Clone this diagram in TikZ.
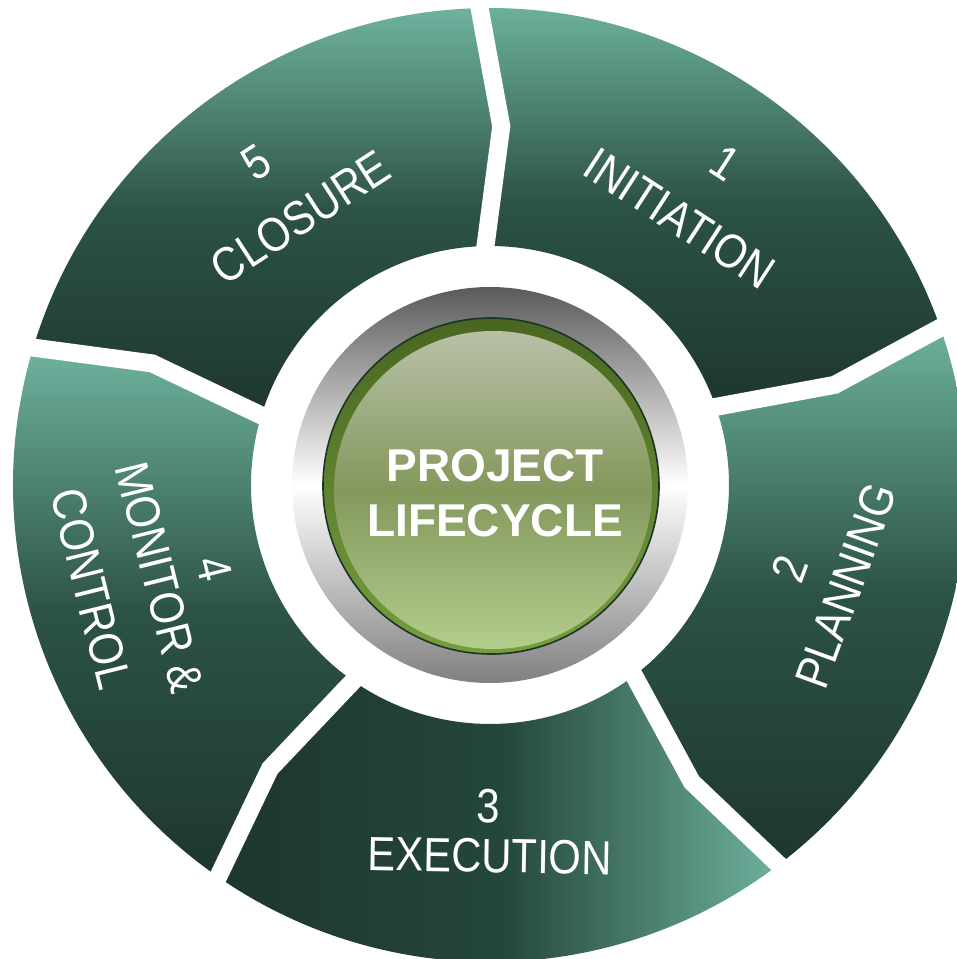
\documentclass[tikz,border=0pt]{standalone}
\usepackage{fontspec}
\setmainfont{Liberation Sans}
\newfontfamily\segfont[FakeStretch=0.87]{Liberation Sans}
\definecolor{tealhi}{RGB}{110,178,158}
\definecolor{tealmid}{RGB}{44,82,70}
\definecolor{tealdk}{RGB}{36,70,60}
\definecolor{teallo}{RGB}{30,54,47}
\definecolor{ringtop}{RGB}{90,90,90}
\definecolor{ringbot}{RGB}{128,128,128}
\definecolor{rimtop}{RGB}{72,102,32}
\definecolor{rimbot}{RGB}{118,158,62}
\definecolor{captop}{RGB}{184,193,167}
\definecolor{capmid}{RGB}{132,152,92}
\definecolor{capbot}{RGB}{178,205,140}
\definecolor{btnline}{RGB}{28,52,38}
\begin{document}
\begin{tikzpicture}[x=0.5pt, y=0.5pt, line join=round,
  vshade/.style={top color=tealhi, bottom color=teallo, middle color=tealmid},
  hshade/.style={left color=teallo, right color=tealhi, middle color=tealdk},
  sepline/.style={white, line width=9pt, line join=miter},
  lab/.style={text=white, inner sep=0pt, font=\segfont\fontsize{24}{28}\selectfont}]
  \useasboundingbox (-490,-474) rectangle (467,485);
  \path[clip] (-490,-474) rectangle (467,485);
  \path (0,0) coordinate (O);
  %\draw[gray!50] (-490,-474) grid[step=50] (467,485);
  % five arrow segments of the ring
  \foreach \a/\st in {91.5/vshade,19.5/vshade,-52.5/hshade,-124.5/vshade,-196.5/vshade}
  \shade[\st] (\a:239) -- ({\a-3.3}:359) -- (\a:477)
    arc[start angle=\a, end angle=\a-72, radius=477]
    -- ({\a-75.3}:359) -- ({\a-72}:239)
    arc[start angle=\a-72, end angle=\a, radius=239] -- cycle;
  \foreach \a in {91.5,19.5,-52.5,-124.5,-196.5}
  \draw[sepline] (\a:228) -- ({\a-3.3}:359) -- (\a:490);
  % hub
  \shade[top color=ringtop, bottom color=ringbot, middle color=white] (O) circle (198);
  \shade[draw=btnline, line width=0.8pt, top color=rimtop, bottom color=rimbot] (1,-1) circle (168);
  \shade[top color=captop, bottom color=capbot, middle color=capmid] (3,-5) circle (159);
  \node[text=white, align=center, font=\bfseries\fontsize{23}{27.5}\selectfont] (hub) at (5,-8) {PROJECT\\LIFECYCLE};
  \foreach \n/\x/\y/\r/\t in {n1/235/322/-33/1, t1/189.5/266.5/-33/INITIATION,
    n2/300/-84/70/2, t2/356/-101/70/PLANNING,
    n3/-2/-321/-1/3, t3/0/-371/-1/EXECUTION,
    n4/-276/-84/-76/4, t4/-330.5/-92.5/-76/{MONITOR \&}, u4/-399/-104/-76/CONTROL,
    n5/-234/322/33/5, t5/-189.5/267.5/33/CLOSURE}
  \node[lab, rotate=\r] (\n) at (\x,\y) {\t};
\end{tikzpicture}
\end{document}
